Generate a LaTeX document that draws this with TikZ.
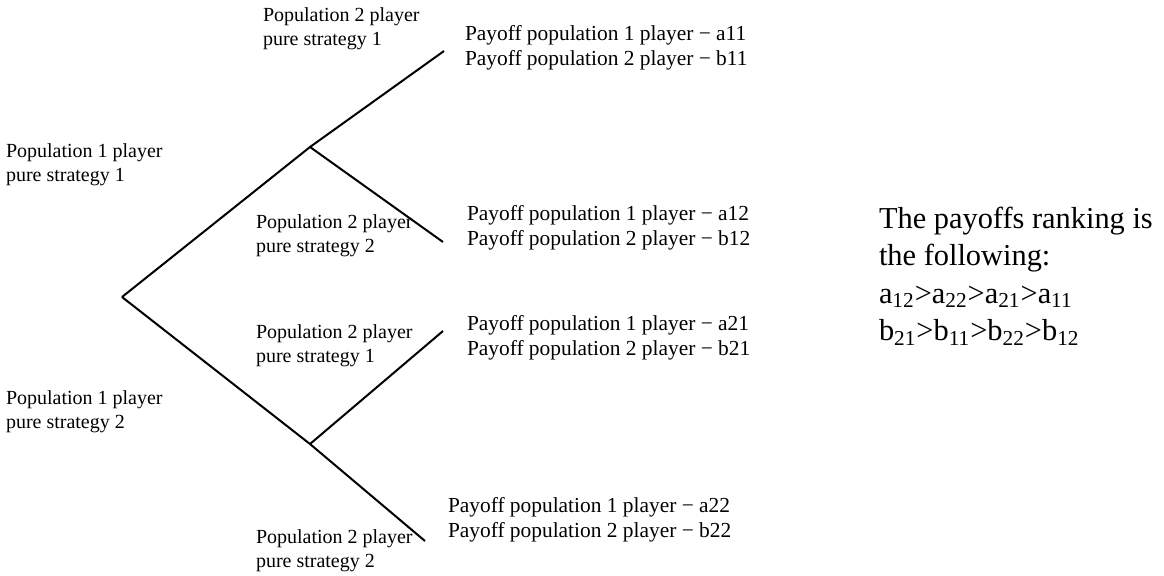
\documentclass[tikz,border=0pt]{standalone}
\usepackage{fontspec}
\setmainfont{Liberation Serif}

\begin{document}
\begin{tikzpicture}[x=0.5pt, y=-0.5pt, line width=1pt,
    lbl/.style={anchor=west, inner sep=0pt, align=left, font=\fontsize{10}{12}\selectfont},
    pay/.style={lbl, font=\fontsize{10.7}{12.3}\selectfont},
    rank/.style={anchor=west, inner sep=0pt, align=left, font=\fontsize{15.2}{18.75}\selectfont}]
    \useasboundingbox (0,0) rectangle (1164,575);
    % tree
    \coordinate (root) at (122,297);
    \coordinate (up) at (310,147);
    \coordinate (down) at (310,444);
    \coordinate (leaf11) at (444,51);
    \coordinate (leaf12) at (443,242);
    \coordinate (leaf21) at (443,331);
    \coordinate (leaf22) at (425,541);
    \draw (root) -- (up) (root) -- (down)
      (up) -- (leaf11) (up) -- (leaf12)
      (down) -- (leaf21) (down) -- (leaf22);
    % labels
    \node[lbl] (pone1) at (5,165) {Population 1 player\\pure strategy 1};
    \node[lbl] (pone2) at (5,412) {Population 1 player\\pure strategy 2};
    \node[lbl] (ptwo11) at (262,29) {Population 2 player\\pure strategy 1};
    \node[lbl] (ptwo12) at (255,236) {Population 2 player\\pure strategy 2};
    \node[lbl] (ptwo21) at (255,346) {Population 2 player\\pure strategy 1};
    \node[lbl] (ptwo22) at (255,551) {Population 2 player\\pure strategy 2};
    % payoffs
    \node[pay] (pay11) at (464,48) {Payoff population 1 player − a11\\Payoff population 2 player − b11};
    \node[pay] (pay12) at (466,228) {Payoff population 1 player − a12\\Payoff population 2 player − b12};
    \node[pay] (pay21) at (466,338) {Payoff population 1 player − a21\\Payoff population 2 player − b21};
    \node[pay] (pay22) at (447,520) {Payoff population 1 player − a22\\Payoff population 2 player − b22};
    \node[rank] (ranking) at (878,276) {The payoffs ranking is\\the following:\\
      a\textsubscript{12}>a\textsubscript{22}>a\textsubscript{21}>a\textsubscript{11}\\
      b\textsubscript{21}>b\textsubscript{11}>b\textsubscript{22}>b\textsubscript{12}};
\end{tikzpicture}
\end{document}
